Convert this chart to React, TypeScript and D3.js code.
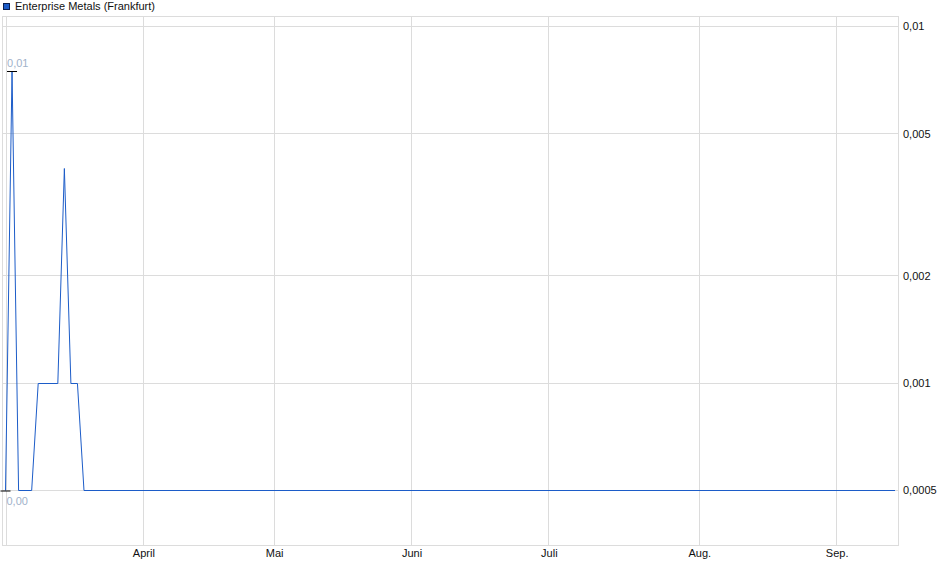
import { useEffect, useRef } from "react";
import * as d3 from "d3";

// Trading calendar (Frankfurt 2025) and series values
const startDate = "2025-03-03";
const endDate = "2025-09-12";
const holidays = ["2025-04-18", "2025-04-21", "2025-05-01"];

// price at the days where the series changes (flat in between)
const pointDates = [
  "2025-03-03", "2025-03-04", "2025-03-05", "2025-03-07", "2025-03-10",
  "2025-03-13", "2025-03-14", "2025-03-17", "2025-03-18", "2025-03-19", "2025-09-12",
];
const pointValues = [
  0.0005, 0.0075, 0.0005, 0.0005, 0.001,
  0.001, 0.004, 0.001, 0.001, 0.0005, 0.0005,
];

const monthLabels = ["", "April", "Mai", "Juni", "Juli", "Aug.", "Sep."];
const yTicks = [0.01, 0.005, 0.002, 0.001, 0.0005];
const yTickLabels = ["0,01", "0,005", "0,002", "0,001", "0,0005"];

const seriesName = "Enterprise Metals (Frankfurt)";
const maxLabel = "0,01";
const minLabel = "0,00";

const W = 940;
const H = 579;
const FONT = "'Liberation Sans', Arial, sans-serif";

export default function App() {
  const svgRef = useRef<SVGSVGElement>(null);

  useEffect(() => {
    if (!svgRef.current) return;
    const svg = d3.select(svgRef.current);
    svg.selectAll("*").remove();

    const plot = { left: 2.5, right: 898.5, top: 16.5, bottom: 545.5 };
    const fmt = d3.timeFormat("%Y-%m-%d");
    const parse = d3.timeParse("%Y-%m-%d");

    const days = d3.timeDay
      .range(parse(startDate)!, d3.timeDay.offset(parse(endDate)!, 1))
      .filter(d => d.getDay() !== 0 && d.getDay() !== 6)
      .map(fmt)
      .filter(d => !holidays.includes(d));

    const x = d3.scalePoint<string>().domain(days).range([5.5, 895]);
    const y = d3.scaleLog().domain([0.0005, 0.01]).range([490.5, 26.5]);
    const py = (v: number) => Math.floor(y(v)) + 0.5;

    // month starts = first trading day of each month
    const monthStarts = days.filter((d, i) => i === 0 || d.slice(5, 7) !== days[i - 1].slice(5, 7));

    // frame
    svg.append("rect")
      .attr("x", plot.left).attr("y", plot.top)
      .attr("width", plot.right - plot.left).attr("height", plot.bottom - plot.top)
      .attr("fill", "none").attr("stroke", "#dcdcdc");

    // horizontal grid
    svg.append("g")
      .selectAll("line")
      .data(yTicks)
      .join("line")
      .attr("x1", plot.left).attr("x2", plot.right)
      .attr("y1", d => py(d)).attr("y2", d => py(d))
      .attr("stroke", "#dcdcdc");

    // vertical grid
    svg.append("g")
      .selectAll("line")
      .data(monthStarts)
      .join("line")
      .attr("x1", d => Math.round(x(d)!) + 0.5).attr("x2", d => Math.round(x(d)!) + 0.5)
      .attr("y1", plot.top).attr("y2", plot.bottom)
      .attr("stroke", "#dcdcdc");

    // y labels (right)
    svg.append("g")
      .selectAll("text")
      .data(yTicks)
      .join("text")
      .attr("x", 903)
      .attr("y", d => y(d))
      .attr("dy", "0.35em")
      .attr("font-family", FONT)
      .attr("font-size", "11px")
      .attr("fill", "#111")
      .text((_, i) => yTickLabels[i]);

    // x labels
    svg.append("g")
      .selectAll("text")
      .data(monthStarts)
      .join("text")
      .attr("x", d => x(d)! + 1)
      .attr("y", 557)
      .attr("text-anchor", "middle")
      .attr("font-family", FONT)
      .attr("font-size", "11px")
      .attr("fill", "#111")
      .text((_, i) => monthLabels[i] ?? "");

    // line
    const line = d3.line<number>()
      .x((_, i) => x(pointDates[i])!)
      .y(d => py(d));
    svg.append("path")
      .datum(pointValues)
      .attr("d", line)
      .attr("fill", "none")
      .attr("stroke", "#1c5cc8")
      .attr("stroke-width", 1);

    // max / min markers
    const maxI = d3.maxIndex(pointValues);
    const minI = d3.minIndex(pointValues);
    const mx = x(pointDates[maxI])!;
    const my = py(pointValues[maxI]);
    const nx = x(pointDates[minI])!;
    const ny = py(pointValues[minI]);

    svg.append("line")
      .attr("x1", mx - 5).attr("x2", mx + 5)
      .attr("y1", my).attr("y2", my)
      .attr("stroke", "#000");
    svg.append("text")
      .attr("x", mx - 5).attr("y", my - 5)
      .attr("font-family", FONT).attr("font-size", "11px")
      .attr("fill", "#9fb2ca")
      .text(maxLabel);

    svg.append("line")
      .attr("x1", nx - 5).attr("x2", nx + 5)
      .attr("y1", ny + 0.5).attr("y2", ny + 0.5)
      .attr("stroke", "#000");
    svg.append("text")
      .attr("x", nx + 1).attr("y", ny + 14)
      .attr("font-family", FONT).attr("font-size", "11px")
      .attr("fill", "#9fb2ca")
      .text(minLabel);

    // legend
    svg.append("rect")
      .attr("x", 3.5).attr("y", 3.5).attr("width", 6).attr("height", 6)
      .attr("fill", "#1c5cc8").attr("stroke", "#0a1f50");
    svg.append("text")
      .attr("x", 15).attr("y", 10)
      .attr("font-family", FONT).attr("font-size", "11px")
      .attr("fill", "#111")
      .text(seriesName);
  }, []);

  return (
    <div style={{ position: "absolute", left: 0, top: 0, width: W, height: H, background: "#fff" }}>
      <svg ref={svgRef} width={W} height={H} style={{ display: "block" }} />
    </div>
  );
}
